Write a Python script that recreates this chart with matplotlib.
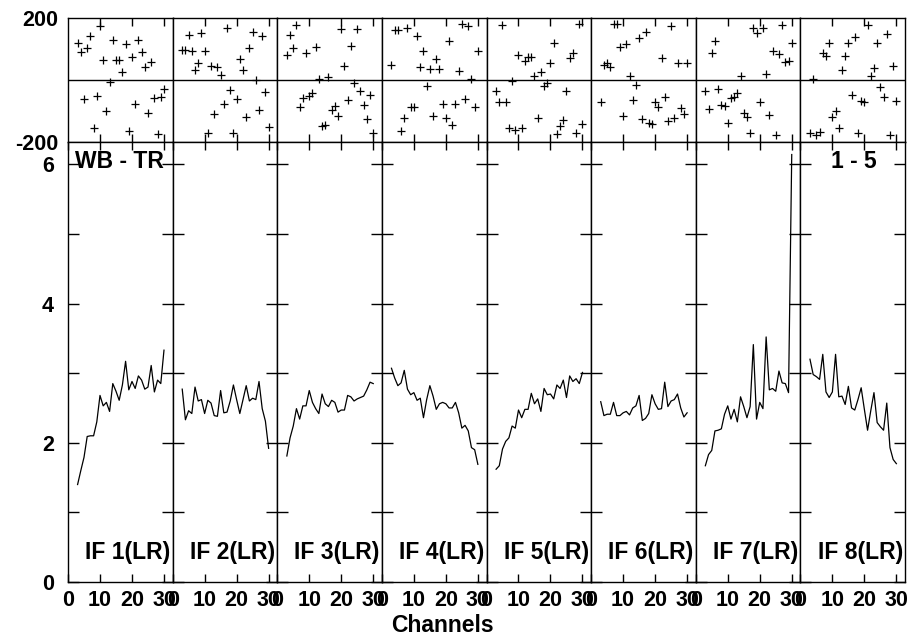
import numpy as np
import matplotlib
matplotlib.use('Agg')
import matplotlib.pyplot as plt

plt.rcParams['font.family'] = ['Liberation Sans', 'DejaVu Sans']
plt.rcParams['font.weight'] = 'bold'

channels = np.arange(3, 31)
if_labels = ['IF 1(LR)', 'IF 2(LR)', 'IF 3(LR)', 'IF 4(LR)',
             'IF 5(LR)', 'IF 6(LR)', 'IF 7(LR)', 'IF 8(LR)']

# amplitude per channel (channels 3..30)
amp1 = [1.40, 1.60, 1.79, 2.09, 2.10, 2.10, 2.30, 2.68, 2.53, 2.58, 2.45, 2.85, 2.74, 2.61,
        2.83, 3.17, 2.76, 2.88, 2.78, 2.96, 2.90, 2.77, 2.80, 3.11, 2.73, 2.90, 2.85, 3.33]
amp2 = [2.77, 2.33, 2.46, 2.42, 2.80, 2.60, 2.62, 2.42, 2.61, 2.57, 2.39, 2.38, 2.75, 2.43,
        2.44, 2.60, 2.83, 2.62, 2.42, 2.62, 2.82, 2.60, 2.64, 2.62, 2.88, 2.49, 2.31, 1.92]
amp3 = [1.81, 2.07, 2.24, 2.49, 2.34, 2.53, 2.53, 2.75, 2.58, 2.49, 2.42, 2.70, 2.56, 2.52,
        2.61, 2.58, 2.44, 2.47, 2.47, 2.68, 2.66, 2.60, 2.63, 2.65, 2.67, 2.76, 2.87, 2.85]
amp4 = [3.07, 2.93, 2.82, 2.86, 3.04, 2.77, 2.69, 2.72, 2.61, 2.64, 2.36, 2.62, 2.82, 2.67,
        2.48, 2.56, 2.58, 2.56, 2.50, 2.50, 2.58, 2.43, 2.21, 2.25, 2.17, 1.93, 1.90, 1.69]
amp5 = [1.62, 1.67, 1.91, 2.02, 2.07, 2.24, 2.21, 2.47, 2.36, 2.48, 2.48, 2.71, 2.56, 2.63,
        2.45, 2.78, 2.69, 2.70, 2.63, 2.83, 2.78, 2.90, 2.65, 2.96, 2.88, 2.92, 2.85, 3.01]
amp6 = [2.59, 2.39, 2.41, 2.41, 2.58, 2.39, 2.39, 2.43, 2.45, 2.40, 2.50, 2.53, 2.68, 2.32,
        2.35, 2.42, 2.69, 2.56, 2.48, 2.49, 2.87, 2.52, 2.60, 2.62, 2.70, 2.50, 2.37, 2.43]
amp7 = [1.67, 1.83, 1.89, 2.17, 2.18, 2.20, 2.41, 2.53, 2.34, 2.48, 2.30, 2.66, 2.52, 2.36,
        2.52, 3.41, 2.34, 2.58, 2.49, 3.52, 2.76, 2.78, 2.74, 3.03, 2.86, 2.85, 2.72, 6.14]
amp8 = [3.20, 2.98, 2.95, 2.91, 3.27, 2.73, 2.65, 2.73, 3.27, 2.66, 2.67, 2.55, 2.81, 2.50,
        2.47, 2.62, 2.79, 2.48, 2.18, 2.46, 2.72, 2.29, 2.23, 2.18, 2.57, 1.93, 1.76, 1.70]

# phase (degrees) per channel
ph1 = [118, 91, -61, 104, 142, -156, -51, 175, 65, -99, -6, 129, 65, 65,
       27, 115, -165, 73, -77, 129, 89, 41, -108, 57, -57, -175, -56, -30]
ph2 = [97, 96, 145, 94, 31, 56, 151, 94, -172, 45, -111, 43, 16, -78,
       167, -32, -170, -62, 67, 32, -120, 102, 154, 0, -97, 142, -38, -153]
ph3 = [81, 145, 104, 177, -86, -57, 86, -52, -43, 108, 2, -147, -145, 11,
       -97, -84, -115, 163, 46, -65, 110, -11, 163, -34, -82, -126, -48, -170]
ph4 = [48, 161, 161, -165, -122, 167, -88, -88, 143, 43, 94, -19, 34, -115,
       67, 34, -77, -124, 127, -145, -77, 30, 180, -60, 174, 2, -86, 95]
ph5 = [-35, -70, 177, -72, -154, -3, -161, 81, -154, 61, 75, 75, 13, -124,
       25, -18, -11, 56, 118, -175, -148, -129, -35, 70, 88, -170, 180, -143]
ph6 = [-70, 48, 54, 41, 180, 180, 105, -116, 116, 13, -65, -16, 134, -127,
       156, -140, -142, -70, -88, 70, -56, -131, 174, -124, 54, -91, -110, 54]
ph7 = [-34, -95, 86, 127, -30, -81, -84, -138, -59, -54, -41, 13, -108, -120,
       -170, 167, 153, -70, 169, 18, -113, 95, -177, 84, 177, 59, 62, 120]
ph8 = [-172, 2, -177, -167, 86, 78, 118, -120, -99, -154, 32, 77, 118, -48,
       138, -172, -67, -70, 177, 13, 40, 118, -24, -54, 148, -177, 46, -67]

amps = [amp1, amp2, amp3, amp4, amp5, amp6, amp7, amp8]
phases = [ph1, ph2, ph3, ph4, ph5, ph6, ph7, ph8]

W, H = 907, 635
fig = plt.figure(figsize=(W / 100, H / 100), dpi=100)

x0, x1 = 68, 905
pw = (x1 - x0) / 8.0
top_y0, top_y1 = 18, 142
bot_y0, bot_y1 = 142, 582

def rect(px, py0, py1):
    return [px / W, 1 - py1 / H, pw / W, (py1 - py0) / H]

tick_fs = 15.5
lab_fs = 16.5

for i in range(8):
    px = x0 + i * pw
    # phase panel
    axp = fig.add_axes(rect(px, top_y0, top_y1))
    axp.plot(channels, phases[i], '+', color='k', ms=5.5, mew=0.9)
    axp.axhline(0, color='k', lw=1)
    axp.set_xlim(0, 32.7)
    axp.set_ylim(-200, 200)
    axp.set_xticks([10, 20, 30])
    axp.set_xticklabels([])
    axp.tick_params(axis='x', direction='in', top=True, bottom=True, length=6, width=1)
    if i == 0:
        axp.set_yticks([-200, 200])
        axp.set_yticklabels(['-200', '200'], fontsize=tick_fs, fontweight='bold')
        axp.tick_params(axis='y', length=0, pad=7)
    else:
        axp.set_yticks([])
    for s in axp.spines.values():
        s.set_linewidth(1)

    # amplitude panel
    axa = fig.add_axes(rect(px, bot_y0, bot_y1))
    axa.plot(channels, amps[i], '-', color='k', lw=0.9)
    axa.set_xlim(0, 32.7)
    axa.set_ylim(0, 6.32)
    axa.set_xticks([0, 10, 20, 30])
    axa.set_xticklabels(['0', '10', '20', '30'], fontsize=tick_fs, fontweight='bold')
    axa.tick_params(axis='x', direction='in', top=True, bottom=True, length=6, width=1, pad=6)
    axa.set_yticks([0, 1, 2, 3, 4, 5, 6])
    if i == 0:
        axa.set_yticklabels(['0', '', '2', '', '4', '', '6'], fontsize=tick_fs, fontweight='bold')
    else:
        axa.set_yticklabels([])
    axa.tick_params(axis='y', direction='in', left=True, right=True, length=8, width=1, pad=10)
    for s in axa.spines.values():
        s.set_linewidth(1)
    axa.text(0.98, 0.066, if_labels[i], transform=axa.transAxes, ha='right', va='center',
             fontsize=lab_fs, fontweight='bold')
    if i == 0:
        axa.text(0.07, 0.955, 'WB - TR', transform=axa.transAxes, ha='left', va='center',
                 fontsize=lab_fs, fontweight='bold')
    if i == 7:
        axa.text(0.73, 0.955, '1 - 5', transform=axa.transAxes, ha='right', va='center',
                 fontsize=lab_fs, fontweight='bold')

fig.text(442 / W, 1 - 625 / H, 'Channels', ha='center', va='center',
         fontsize=lab_fs, fontweight='bold')

fig.savefig('out.png', dpi=100)
